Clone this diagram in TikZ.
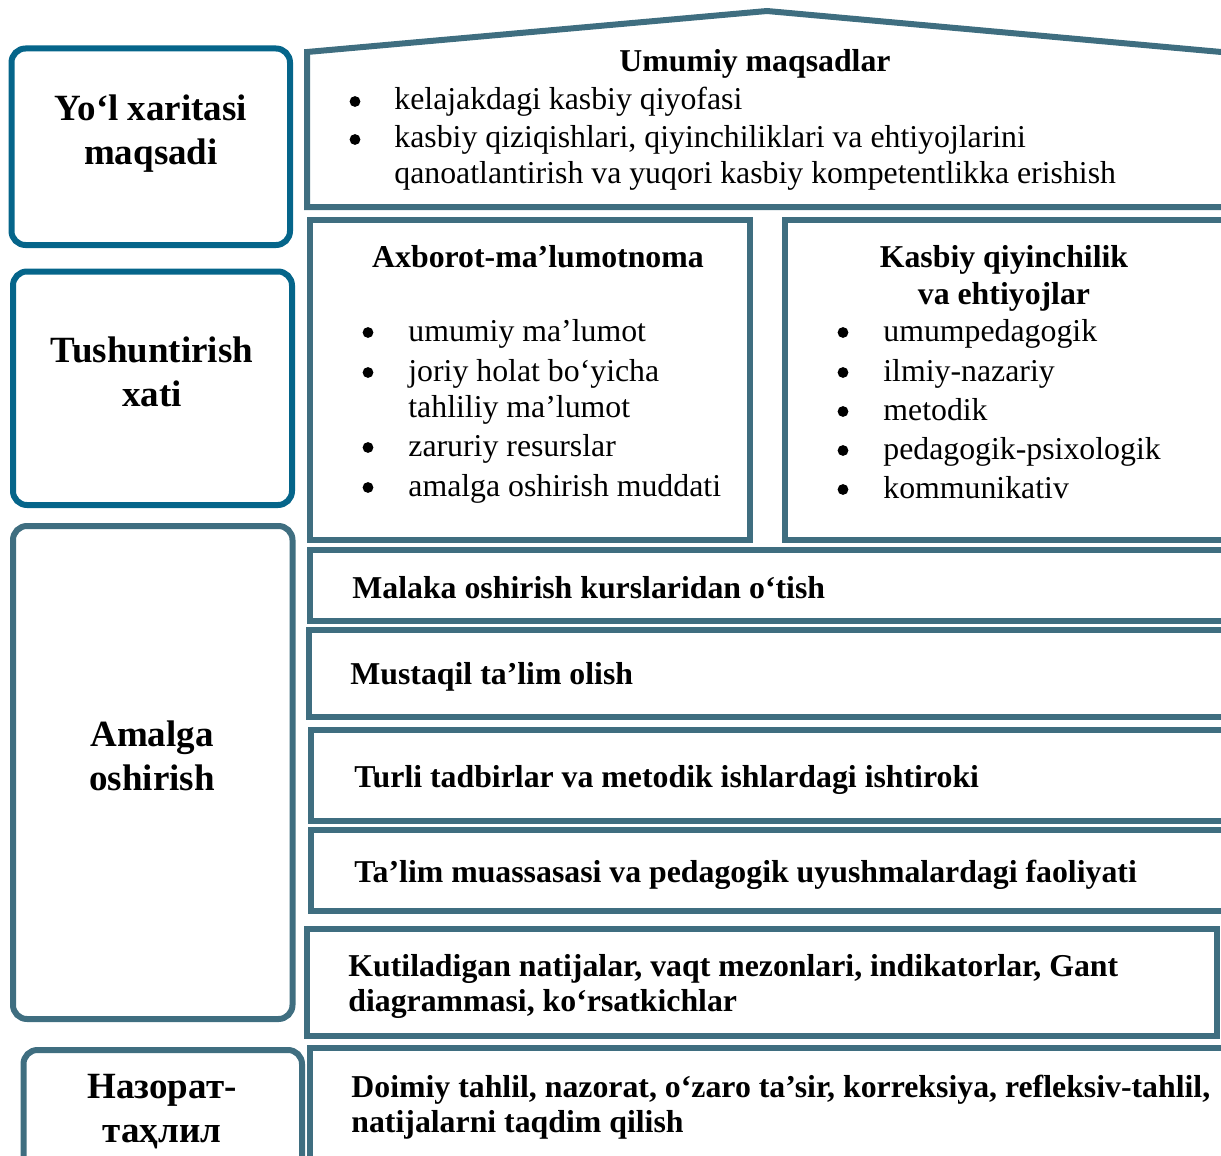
\documentclass[tikz,border=0pt]{standalone}
\usepackage{fontspec}
\setmainfont{Liberation Serif}

\begin{document}
\begin{tikzpicture}[x=0.5pt, y=-0.5pt,
  frame/.style={draw=slate, line width=3pt, line join=miter},
  lframe/.style={line width=3pt, rounded corners=7pt},
  ttl/.style={font=\bfseries\fontsize{18.5}{22}\selectfont, align=center, anchor=base, inner sep=0pt},
  hd/.style={font=\bfseries\fontsize{15.9}{18.5}\selectfont, align=center, anchor=base, inner sep=0pt},
  txt/.style={font=\bfseries\fontsize{15.9}{17.5}\selectfont, align=left, anchor=base west, inner sep=0pt},
  itm/.style={font=\fontsize{15.9}{18}\selectfont, align=left, anchor=base west, inner sep=0pt},
  dot/.style={circle, fill=black, inner sep=0pt, minimum size=5.4pt}]
  \definecolor{deepblue}{RGB}{5,101,138}
  \definecolor{slate}{RGB}{63,110,128}
  \useasboundingbox (0,0) rectangle (1221,1156);
  \clip (0,0) rectangle (1221,1156);
  \draw [lframe, draw=deepblue] (11.5,48.5) rectangle (290,245);
  \draw [lframe, draw=deepblue] (13,271.5) rectangle (292,505);
  \draw [lframe, draw=slate] (13,526) rectangle (292.5,1019);
  \draw [lframe, draw=slate] (23.5,1050) rectangle (302,1180);
  \draw [frame] (1240,207) -- (307,207) -- (307,52) -- (767,11) -- (1240,53.7);
  \draw [frame] (309.5,219.5) rectangle (750,540);
  \draw [frame] (784.5,219.5) rectangle (1240,540);
  \draw [frame] (310,550) rectangle (1240,621);
  \draw [frame] (309,630) rectangle (1240,717);
  \draw [frame] (311,730) rectangle (1240,821);
  \draw [frame] (311,830) rectangle (1240,911);
  \draw [frame] (307,929) rectangle (1217,1036);
  \draw [frame] (310,1048) rectangle (1240,1180);
  \node [ttl] (yolxar) at (151,164) {Yo‘l xaritasi\\maqsadi};
  \node [ttl] (tushun) at (152,406) {Tushuntirish\\xati};
  \node [ttl] (amalga) at (152,790) {Amalga\\oshirish};
  \node [ttl] (nazorat) at (162,1142) {Назорат-\\таҳлил};
  \node [hd] (umumiy) at (755,72) {Umumiy maqsadlar};
  \node [dot] (ub1) at (355,101.5) {};
  \node [itm] (u1) at (394,110) {kelajakdagi kasbiy qiyofasi};
  \node [dot] (ub2) at (355,139.5) {};
  \node [itm] (u2) at (394,184) {kasbiy qiziqishlari, qiyinchiliklari va ehtiyojlarini\\qanoatlantirish va yuqori kasbiy kompetentlikka erishish};
  \node [hd] (axborot) at (538,267) {Axborot-ma’lumotnoma};
  \node [dot] (ab1) at (368,332.5) {};
  \node [itm] (a1) at (408,341) {umumiy ma’lumot};
  \node [dot] (ab2) at (368,372.5) {};
  \node [itm] (a2) at (408,417) {joriy holat bo‘yicha\\tahliliy ma’lumot};
  \node [dot] (ab3) at (368,447.5) {};
  \node [itm] (a3) at (408,456) {zaruriy resurslar};
  \node [dot] (ab4) at (368,487.5) {};
  \node [itm] (a4) at (408,496) {amalga oshirish muddati};
  \node [hd] (kasbiy) at (1004,304) {Kasbiy qiyinchilik\\va ehtiyojlar};
  \node [dot] (kb1) at (843,332.5) {};
  \node [itm] (k1) at (883,341) {umumpedagogik};
  \node [dot] (kb2) at (843,372.5) {};
  \node [itm] (k2) at (883,381) {ilmiy-nazariy};
  \node [dot] (kb3) at (843,411.5) {};
  \node [itm] (k3) at (883,420) {metodik};
  \node [dot] (kb4) at (843,450.5) {};
  \node [itm] (k4) at (883,459) {pedagogik-psixologik};
  \node [dot] (kb5) at (843,489.5) {};
  \node [itm] (k5) at (883,498) {kommunikativ};
  \node [txt] (malaka) at (352,598) {Malaka oshirish kurslaridan o‘tish};
  \node [txt] (mustaqil) at (350,684) {Mustaqil ta’lim olish};
  \node [txt] (turli) at (354,787) {Turli tadbirlar va metodik ishlardagi ishtiroki};
  \node [txt] (talim) at (354,882) {Ta’lim muassasasi va pedagogik uyushmalardagi faoliyati};
  \node [txt] (kutil) at (348,1011) {Kutiladigan natijalar, vaqt mezonlari, indikatorlar, Gant\\diagrammasi, ko‘rsatkichlar};
  \node [txt] (doimiy) at (351,1132) {Doimiy tahlil, nazorat, o‘zaro ta’sir, korreksiya, refleksiv-tahlil,\\natijalarni taqdim qilish};
\end{tikzpicture}
\end{document}
